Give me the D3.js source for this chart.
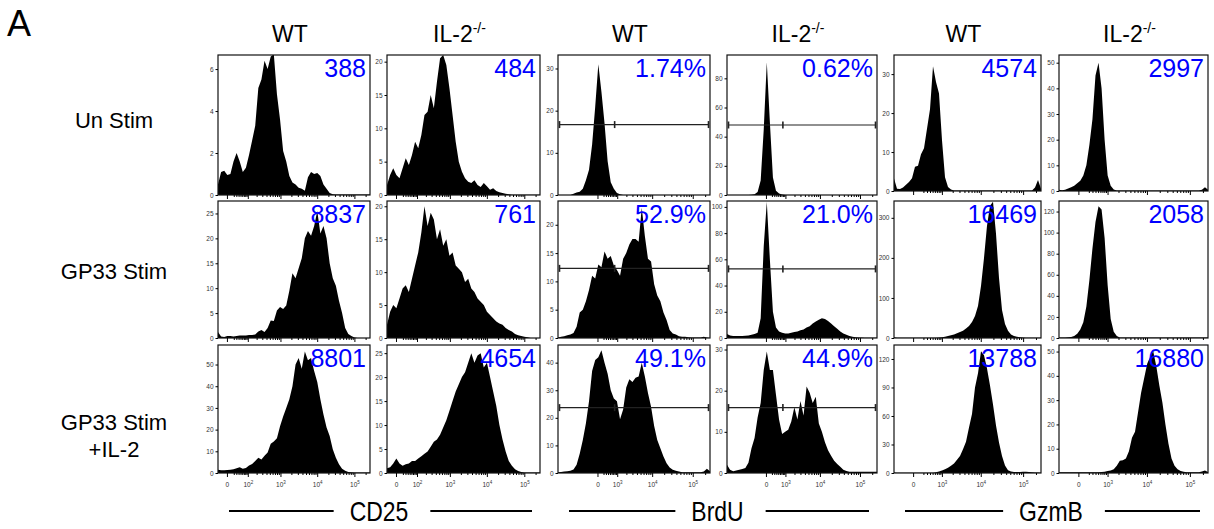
<!DOCTYPE html>
<html>
<head>
<meta charset="utf-8">
<title>IL-2 flow histograms</title>
<script src="https://d3js.org/d3.v7.min.js"></script>
<style>
  * { margin: 0; padding: 0; }
  body { background: #fff; }
  svg { display: block; font-family: "Liberation Sans", Arial, sans-serif; }
</style>
</head>
<body>
<div id="chart"></div>
<script>
// ---- labels ----
const genotypes = ["WT", "IL-2", "WT", "IL-2", "WT", "IL-2"];
const genoSup   = ["", "-/-", "", "-/-", "", "-/-"];
const conditions = [["Un Stim"], ["GP33 Stim"], ["GP33 Stim", "+IL-2"]];
const markers = ["CD25", "BrdU", "GzmB"];

// numbers printed in the corner of each panel
const panelStats = [
  ["388", "484", "1.74%", "0.62%", "4574", "2997"],
  ["8837", "761", "52.9%", "21.0%", "16469", "2058"],
  ["8801", "4654", "49.1%", "44.9%", "13788", "16880"]
];

// y axis (count) top and tick step for each panel
const yTop  = [[6.67, 21, 33.2, 96, 34.9, 53], [27.5, 20.8, 24.2, 104.5, 342, 130], [59, 26.7, 46.4, 31.1, 134.7, 52.7]];
const yStep = [[2, 5, 10, 20, 10, 10], [5, 5, 5, 20, 100, 20], [10, 5, 10, 10, 30, 10]];

// x axis decades per marker
const xMajor = [[0, 1e2, 1e3, 1e4, 1e5], [0, 1e3, 1e4, 1e5], [0, 1e3, 1e4, 1e5]];
const xExp   = [["", "2", "3", "4", "5"], ["", "3", "4", "5"], ["", "3", "4", "5"]];

// BrdU range gate: height of the bar (counts) and the cut value
const gateLevel = [[16.7, 48], [12.3, 52.7], [23.7, 15.9]];
const gateCut = 800;

// histograms, 50 channels across each plot
const cd25WtUn = [0.5,1.1,1.15,0.95,1.0,1.6,2.0,1.6,1.1,1.3, 1.9,2.6,3.3,5.1,5.5,6.4,6.0,6.6,6.7,4.8, 3.6,2.1,1.6,0.9,0.6,0.5,0.35,0.3,0.2,0.85, 1.1,1.0,1.05,0.9,0.5,0.3,0.1,0.03,0.02,0.02, 0.02,0.02,0.02,0.02,0.02,0.02,0.02,0.02,0.02,0.02];
const cd25KoUn = [1.5,3,4,3,2.5,4,5.5,4.5,6,8, 7,9,12,12.5,15,13,17,20.5,21,19.5, 16,12,8,5,3.5,2.5,2,1.8,2.2,1.5, 1.2,1.8,1.3,0.8,1,0.6,0.4,0.3,0.2,0.1, 0.05,0.05,0.05,0.05,0.05,0.05,0.05,0.05,0.05,0.05];
const brduWtUn = [0,0,0,0,0,0.3,0.6,0.8,1.5,3.5, 6,12,21,31,24.5,17,8,3,1.5,0.5, 0.2,0,0,0,0,0,0,0,0,0, 0,0,0,0,0,0,0,0,0,0, 0,0,0,0,0,0,0,0,0,0];
const brduKoUn = [0,0,0,0,0,0,0,0,0.2,0.5, 2,10,45,91,50,12,3,1,0.3,0, 0,0,0,0,0,0,0,0,0,0, 0,0,0,0,0,0,0,0,0,0, 0,0,0,0,0,0,0,0,0,0];
const gzmbWtUn = [3.2,0.6,0.5,0.9,1.6,2.3,3.3,6.2,6.5,9.4, 11,16,21,32,28,25,13,3.5,1,0.4, 0.15,0.15,0.15,0.15,0.15,0.15,0.15,0.15,0.15,0.15, 0.15,0.15,0.15,0.15,0.15,0.15,0.15,0.15,0.15,0.15, 0.15,0.15,0.15,0.15,0.15,0.15,0.15,0.9,2.8,0.6];
const gzmbKoUn = [0.5,0.3,0.5,1,1.5,2,3,4,6,10, 18,28,45,50,40,20,6,2,0.6,0.2, 0.2,0.2,0.2,0.2,0.2,0.2,0.2,0.2,0.2,0.2, 0.2,0.2,0.2,0.2,0.2,0.2,0.2,0.2,0.2,0.2, 0.2,0.2,0.2,0.2,0.2,0.2,0.2,0.5,1.5,0.5];

const cd25WtGp = [1.2,0.3,0.2,0.4,0.4,0.3,0.4,0.5,0.5,0.5, 0.6,0.6,0.7,1.3,1.6,1.2,2,3.5,3.4,5.5, 6.2,5.8,6.5,9.5,13,12,14,16,20,21.5, 20.5,22.5,25.5,21,22.5,20,15,12,10.5,7.5, 5,2,0.8,0.4,0.1,0,0,0,0,0];
const cd25KoGp = [2,4,5,4.5,6,7.5,8,7,9,11, 13,16,20,17,19,18,15,16.5,14,15, 12.5,13,11,10.5,10,8.5,9,7.5,7,6, 5.5,5,4,3.5,3,2.5,2.2,2,1.5,1.2, 1,0.6,0.4,0.3,0.2,0.1,0,0,0,0];
const brduWtGp = [0.1,0.2,0.3,0.5,0.6,0.9,2,4.5,5,6.5, 8.5,11,10.5,13,12.5,15.3,14,14.5,12.8,12, 11,14,15,16.5,17.5,17.5,17,23,18,14, 13.5,9.5,7.5,6.5,4.5,3.2,1.4,0.8,0.6,0.3, 0.2,0.2,0.15,0.1,0.1,0.1,0.1,0.2,0.1,0];
const brduKoGp = [3,2,1.5,1.5,1.5,1.5,1.8,2,2.5,3, 4,15,70,104,60,20,8,5,4,3.5, 3.5,4,4.5,5,6,6.5,8,9,11,12.5, 14,15,14.5,13,11,9,7,5,3.5,2.5, 1.5,1,0.6,0.4,0.3,0.2,0.2,0.2,0.2,0.2];
const gzmbWtGp = [2,0.5,0.5,0.5,0.5,0.5,0.5,0.5,0.5,0.5, 0.5,0.5,0.5,0.5,0.5,1,2,3,5,7, 9,12,15,18,24,30,40,55,80,130, 200,280,330,340,260,150,70,35,18,9, 5,3,2,1,0.5,0.5,0.5,0.5,0.5,0.5];
const gzmbKoGp = [0.5,0.5,0.5,0.8,1,2,4,8,15,30, 55,85,110,125,122,95,50,18,6,2, 0.5,0.5,0.5,0.5,0.5,0.5,0.5,0.5,0.5,0.5, 0.5,0.5,0.5,0.5,0.5,0.5,0.5,0.5,0.5,0.5, 0.5,0.5,0.5,0.5,0.5,0.5,0.5,0.5,0.5,0.5];

const cd25WtIl2 = [1.5,1.3,1.3,1.4,1.5,1.7,2.2,2.6,2,2.3, 3.5,4.2,5.5,7,6.2,8,9.5,13.5,14.5,16, 21.5,26,30,34,40,50,53,48,56,52, 53,47,42,34,27,21,17,11,7,4, 2,1,0.5,0.3,0.2,0.2,0.2,0.2,0.2,0.2];
const cd25KoIl2 = [1,1.2,2,3,2,1.5,1.8,2,2.5,2.5, 3,3.5,4,4.5,5.5,6.5,7,8,9.5,11, 13,15,17,18.5,20,21,23,25,23,24.5, 25,22,23,20,17,14,10,7,4.5,2.5, 1.5,0.8,0.4,0.2,0.1,0.1,0.1,0.1,0.1,0.1];
const brduWtIl2 = [0.3,0.4,0.5,0.6,0.8,1.3,3,7,12,18, 26,37,41,42,44.5,40,36,30,27,26, 19.5,23,31,34,33,34.5,35,40,35,29, 24,17,12,9,6,3.5,2,1.2,0.8,0.5, 0.3,0.3,0.3,0.3,0.3,0.3,0.3,0.5,1.5,0.6];
const brduKoIl2 = [2,0.8,0.4,0.6,0.8,1,1.2,2.5,6,8.5, 13.5,17,25,29.5,25,25,19,13,9.5,10, 10.5,12.5,16,13,17.5,14,21,19.5,17,18.5, 12,10,7.5,5.5,4.2,3,2.2,1.5,0.8,0.5, 0.3,0.3,0.3,0.3,0.3,0.3,0.3,0.3,0.3,0.3];
const gzmbWtIl2 = [0.5,0.3,0.3,0.3,0.3,0.3,0.3,0.3,0.3,0.3, 0.3,0.3,0.3,0.3,0.8,1.5,2.5,4,5.5,7.5, 10,14,18,25,33,48,62,90,105,128, 124,110,92,72,50,32,18,8,3,1.5, 1,1,1,1.2,1.2,1,0.8,0.5,0.4,0.3];
const gzmbKoIl2 = [0.3,0.3,0.3,0.3,0.3,0.3,0.3,0.3,0.3,0.3, 0.3,0.3,0.3,0.3,0.4,0.5,0.8,1,1.5,3, 5,5.3,6,9,14.5,17,25,33,39,45, 48,50,44,36,29,20,12,6,3,1.5, 0.8,0.5,0.3,0.3,0.3,0.3,0.3,0.6,1,0.4];

const grid = [
  [cd25WtUn, cd25KoUn, brduWtUn, brduKoUn, gzmbWtUn, gzmbKoUn],
  [cd25WtGp, cd25KoGp, brduWtGp, brduKoGp, gzmbWtGp, gzmbKoGp],
  [cd25WtIl2, cd25KoIl2, brduWtIl2, brduKoIl2, gzmbWtIl2, gzmbKoIl2]
];

// ---- layout ----
const W = 1214, H = 529;
const colLeft  = [218, 387, 558, 727, 894, 1059];
const colRight = [370, 540, 710, 877, 1041, 1208];
const rowTop = [55, 201, 345];
const rowBottom = [195, 338, 473];
const labelBase = [[128], [279], [430, 457]];

// biexponential-like display, approximated with symlog
const xCfg = [{c: 38, lo: -28}, {c: 500, lo: -4000}, {c: 270, lo: -485}];

const svg = d3.select("#chart").append("svg")
  .attr("width", W).attr("height", H)
  .style("background", "#fff");

const defs = svg.append("defs");

svg.append("text").attr("x", 7).attr("y", 36)
  .attr("font-size", 36).text("A");

// column headers
genotypes.forEach((gname, c) => {
  const cx = (colLeft[c] + colRight[c]) / 2 - 4;
  const t = svg.append("text").attr("x", cx).attr("y", 42)
    .attr("text-anchor", "middle").attr("font-size", 23);
  t.append("tspan").text(gname);
  if (genoSup[c]) t.append("tspan").attr("dy", -9).attr("font-size", 14).text(genoSup[c]);
});

// row labels
conditions.forEach((lines, r) => {
  lines.forEach((s, k) => {
    svg.append("text")
      .attr("x", 114).attr("y", labelBase[r][k])
      .attr("text-anchor", "middle").attr("font-size", 22)
      .text(s);
  });
});

grid.forEach((row, r) => row.forEach((vals, c) => {
  const grp = Math.floor(c / 2);
  const x0 = colLeft[c], x1 = colRight[c], y0 = rowTop[r];
  const y1 = (r === 0 && grp === 2) ? 191 : rowBottom[r];
  const xb = d3.scaleLinear().domain([0, vals.length - 1]).range([x0, x1]);
  const xs = d3.scaleSymlog().constant(xCfg[grp].c).domain([xCfg[grp].lo, 262144]).range([x0, x1]);
  const y = d3.scaleLinear().domain([0, yTop[r][c]]).range([y1, y0]);
  const panel = svg.append("g");

  const clipId = `clip-${r}-${c}`;
  defs.append("clipPath").attr("id", clipId).append("rect")
    .attr("x", x0).attr("y", y0).attr("width", x1 - x0).attr("height", y1 - y0);

  panel.append("path").datum(vals)
    .attr("clip-path", `url(#${clipId})`)
    .attr("fill", "#000")
    .attr("d", d3.area().x((d, i) => xb(i)).y0(y1).y1(d => y(d)));

  // BrdU gate
  if (grp === 1) {
    const gy = y(gateLevel[r][c - 2]);
    const gg = panel.append("g").attr("stroke", "#222").attr("stroke-width", 1.2);
    gg.append("line").attr("x1", x0 + 1).attr("x2", x1 - 1).attr("y1", gy).attr("y2", gy);
    [x0 + 1.5, xs(gateCut), x1 - 1.5].forEach(gx => {
      gg.append("line").attr("x1", gx).attr("x2", gx).attr("y1", gy - 3.5).attr("y2", gy + 3.5)
        .attr("stroke-width", 1.6);
    });
  }

  // frame
  panel.append("rect").attr("x", x0).attr("y", y0)
    .attr("width", x1 - x0).attr("height", y1 - y0)
    .attr("fill", "none").attr("stroke", "#111").attr("stroke-width", 1.2);

  // y axis
  const yt = d3.range(0, yTop[r][c] + 1e-6, yStep[r][c]);
  const ya = panel.append("g").attr("transform", `translate(${x0},0)`)
    .call(d3.axisLeft(y).tickValues(yt).tickSize(2.5).tickPadding(2).tickFormat(d3.format("d")));
  ya.select(".domain").remove();
  ya.selectAll("text").attr("font-size", 6.5).attr("fill", "#333")
    .attr("font-family", "'Liberation Sans', Arial, sans-serif");

  // x axis ticks (major + minor)
  const minors = [];
  for (let k = grp === 0 ? 1 : 2; k <= 5; k++) {
    for (let m = 2; m <= 9; m++) {
      const v = m * Math.pow(10, k);
      if (v < 262144) minors.push(v);
    }
  }
  const xaMin = panel.append("g").attr("transform", `translate(0,${y1})`)
    .call(d3.axisBottom(xs).tickValues(minors).tickSize(2).tickFormat(""));
  xaMin.select(".domain").remove();
  const xa = panel.append("g").attr("transform", `translate(0,${y1})`)
    .call(d3.axisBottom(xs).tickValues(xMajor[grp]).tickSize(4).tickFormat(""));
  xa.select(".domain").remove();
  if (r === 2) {
    xa.selectAll(".tick").each(function(d, i) {
      const t = d3.select(this).select("text")
        .attr("font-size", 6.5).attr("fill", "#333").attr("y", 9)
        .attr("font-family", "'Liberation Sans', Arial, sans-serif");
      if (d === 0) { t.text("0"); return; }
      t.append("tspan").text("10");
      t.append("tspan").attr("dy", -3).attr("font-size", 4.5).text(xExp[grp][i]);
    });
  }

  // stat number
  panel.append("text")
    .attr("x", x1 - 4).attr("y", y0 + 22)
    .attr("text-anchor", "end").attr("font-size", 25)
    .attr("fill", "#0000ff")
    .text(panelStats[r][c]);
}));

// marker labels with rules
markers.forEach((m, gi) => {
  const left = colLeft[gi * 2], right = colRight[gi * 2 + 1];
  const cx = (left + right) / 2;
  const sx = 0.82;
  const t = svg.append("text").attr("x", cx).attr("y", 521)
    .attr("text-anchor", "middle").attr("font-size", 28)
    .attr("transform", `translate(${cx},0) scale(${sx},1) translate(${-cx},0)`)
    .text(m);
  const half = t.node().getComputedTextLength() * sx / 2;
  svg.append("line").attr("x1", left + 11).attr("x2", cx - half - 16)
    .attr("y1", 511).attr("y2", 511).attr("stroke", "#000").attr("stroke-width", 2);
  svg.append("line").attr("x1", cx + half + 22).attr("x2", right - 8)
    .attr("y1", 511).attr("y2", 511).attr("stroke", "#000").attr("stroke-width", 2);
});
</script>
</body>
</html>
